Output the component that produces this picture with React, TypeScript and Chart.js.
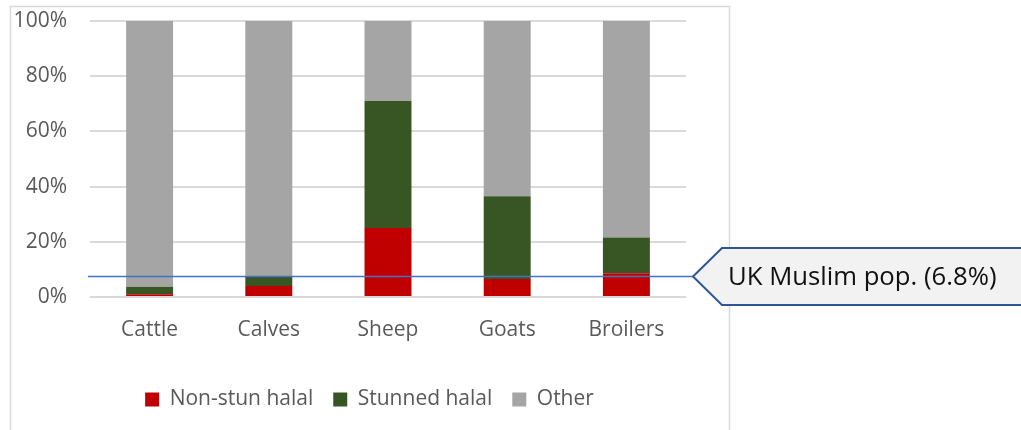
import React, { useEffect, useRef } from 'react';
import { Chart, registerables } from 'chart.js';
Chart.register(...registerables);

const categories = ['Cattle', 'Calves', 'Sheep', 'Goats', 'Broilers'];
const nonStunHalal = [1, 4, 25, 6.5, 8.6];
const stunnedHalal = [2.7, 3.4, 46, 30, 13];
const other = [96.3, 92.6, 29, 63.5, 78.4];
const seriesNames = ['Non-stun halal', 'Stunned halal', 'Other'];
const yTickValues = [0, 20, 40, 60, 80, 100];
const muslimPopLine = 7.5;
const calloutText = 'UK Muslim pop. (6.8%)';

const FONT = '"Open Sans", "Noto Sans", sans-serif';
const BOTTOM_PAD = 10;

const decor = {
  id: 'decor',
  beforeDraw(chart: any) {
    const ctx = chart.ctx;
    ctx.save();
    ctx.strokeStyle = '#D9D9D9';
    ctx.lineWidth = 1.5;
    ctx.strokeRect(10.5, 6.5, 719, 440);
    ctx.restore();
  },
  afterDatasetsDraw(chart: any) {
    const { ctx, chartArea, scales } = chart;
    const y = Math.round(scales.y.getPixelForValue(muslimPopLine)) + 0.5;
    ctx.save();
    ctx.strokeStyle = '#4472C4';
    ctx.lineWidth = 1.3;
    ctx.beginPath();
    ctx.moveTo(chartArea.left - 2, y);
    ctx.lineTo(chartArea.right + 7, y);
    ctx.stroke();
    const tipX = chartArea.right + 7;
    const bx = tipX + 29;
    const top = y - 28.5;
    const bottom = y + 28.5;
    ctx.beginPath();
    ctx.moveTo(tipX, y);
    ctx.lineTo(bx, top);
    ctx.lineTo(1040, top);
    ctx.lineTo(1040, bottom);
    ctx.lineTo(bx, bottom);
    ctx.closePath();
    ctx.fillStyle = '#F2F2F2';
    ctx.fill();
    ctx.strokeStyle = '#2F5597';
    ctx.lineWidth = 2;
    ctx.stroke();
    ctx.fillStyle = '#111111';
    ctx.font = '25.7px ' + FONT;
    ctx.textBaseline = 'middle';
    ctx.textAlign = 'left';
    ctx.fillText(calloutText, bx + 6, y + 1);
    ctx.restore();
  },
};

export default function App() {
  const ref = useRef<HTMLCanvasElement>(null);
  useEffect(() => {
    if (!ref.current) return;
    const chart = new Chart(ref.current, {
      type: 'bar',
      data: {
        labels: categories,
        datasets: [
          { label: seriesNames[0], data: nonStunHalal, backgroundColor: '#C00000', yAxisID: 'y' },
          { label: seriesNames[1], data: stunnedHalal, backgroundColor: '#375623', yAxisID: 'y' },
          { label: seriesNames[2], data: other, backgroundColor: '#A5A5A5', yAxisID: 'y' },
        ],
      },
      options: {
        responsive: false,
        animation: false,
        events: [],
        layout: { padding: { left: 10, right: 292, top: 21, bottom: BOTTOM_PAD } },
        datasets: { bar: { categoryPercentage: 1, barPercentage: 0.394 } },
        plugins: {
          tooltip: { enabled: false },
          legend: {
            position: 'bottom',
            labels: {
              boxWidth: 14,
              boxHeight: 14,
              padding: 20,
              color: '#595959',
              font: { family: FONT, size: 21 },
            },
          },
        },
        scales: {
          x: {
            stacked: true,
            grid: { display: false, drawTicks: false },
            border: { display: false },
            ticks: { color: '#595959', font: { family: FONT, size: 21 }, padding: 20 },
            afterFit: (s: any) => {
              const lh = s.chart.legend ? s.chart.legend.height : 0;
              s.height = 430 - BOTTOM_PAD - lh - 297;
            },
          },
          y: {
            stacked: true,
            min: 0,
            max: 100,
            afterBuildTicks: (s: any) => {
              s.ticks = yTickValues.map((v) => ({ value: v }));
            },
            grid: { color: '#D9D9D9', lineWidth: 2, drawTicks: false },
            border: { display: false },
            ticks: {
              color: '#595959',
              font: { family: FONT, size: 21 },
              padding: 23,
              callback: (v: any) => v + '%',
            },
            afterFit: (s: any) => {
              s.width = 80;
              s.paddingTop = 0;
              s.paddingBottom = 0;
            },
          },
          y2: {
            position: 'right',
            display: true,
            grid: { display: false, drawTicks: false },
            border: { display: false },
            ticks: { display: false },
            afterFit: (s: any) => {
              s.width = 43;
              s.paddingTop = 0;
              s.paddingBottom = 0;
            },
          },
        },
      },
      plugins: [decor],
    });
    return () => chart.destroy();
  }, []);
  return (
    <div style={{ position: 'fixed', left: 0, top: 0, width: 1021, height: 430, background: '#fff' }}>
      <canvas ref={ref} width={1021} height={430} />
    </div>
  );
}
